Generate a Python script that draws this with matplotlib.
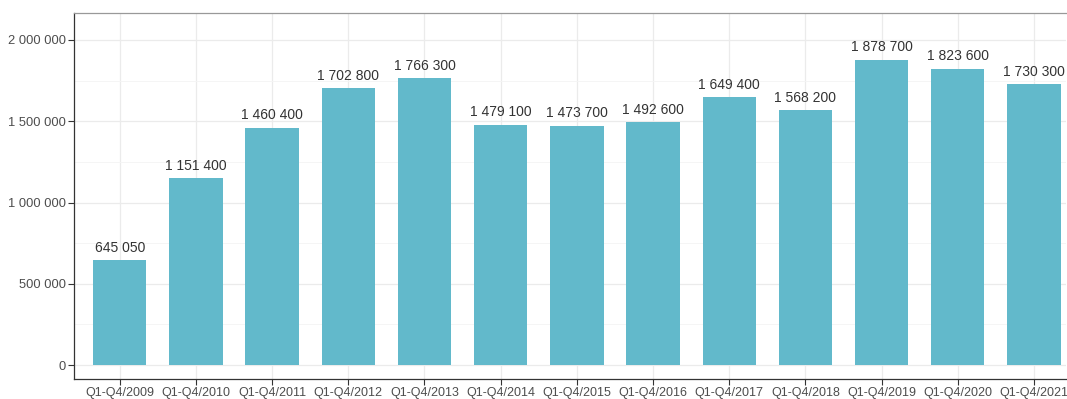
import matplotlib
matplotlib.use("Agg")
import matplotlib.pyplot as plt
from matplotlib.ticker import FuncFormatter, MultipleLocator

periods = ["Q1-Q4/2009", "Q1-Q4/2010", "Q1-Q4/2011", "Q1-Q4/2012", "Q1-Q4/2013",
           "Q1-Q4/2014", "Q1-Q4/2015", "Q1-Q4/2016", "Q1-Q4/2017", "Q1-Q4/2018",
           "Q1-Q4/2019", "Q1-Q4/2020", "Q1-Q4/2021"]
values = [645050, 1151400, 1460400, 1702800, 1766300, 1479100, 1473700,
          1492600, 1649400, 1568200, 1878700, 1823600, 1730300]

plt.rcParams["font.family"] = ["Liberation Sans", "DejaVu Sans"]


def spaced(v, _pos=None):
    return f"{int(round(v)):,}".replace(",", " ")


fig = plt.figure(figsize=(10.67, 3.99), dpi=100)
ax = fig.add_axes([74 / 1067, 1 - 379 / 399, (1066 - 74) / 1067, (379 - 13) / 399])

x = list(range(len(periods)))
ax.bar(x, values, width=0.7, color="#62B9CB", zorder=3)
for xi, v in zip(x, values):
    ax.text(xi, v + 32000, spaced(v), ha="center", va="bottom",
            fontsize=10, color="#333333", zorder=4)

ax.set_xlim(-0.6, 12.42)
ax.set_ylim(-86000, 2166000)
ax.yaxis.set_major_locator(MultipleLocator(500000))
ax.yaxis.set_minor_locator(MultipleLocator(250000))
ax.yaxis.set_major_formatter(FuncFormatter(spaced))
ax.set_xticks(x)
ax.set_xticklabels(periods)

ax.grid(which="major", color="#EBEBEB", linewidth=0.9, zorder=0)
ax.grid(which="minor", axis="y", color="#F4F4F4", linewidth=0.6, zorder=0)
ax.tick_params(axis="y", which="major", length=4, width=0.8, color="#333333",
               labelsize=9.3, labelcolor="#4D4D4D", pad=2)
ax.tick_params(axis="x", which="major", length=4, width=0.8, color="#333333",
               labelsize=9.0, labelcolor="#4D4D4D", pad=2)
ax.tick_params(axis="y", which="minor", length=0)

for side in ("left", "bottom"):
    ax.spines[side].set_color("#333333")
    ax.spines[side].set_linewidth(0.9)
ax.spines["top"].set_color("#999999")
ax.spines["top"].set_linewidth(0.9)
ax.spines["right"].set_visible(False)

fig.savefig("out.png", dpi=100)
